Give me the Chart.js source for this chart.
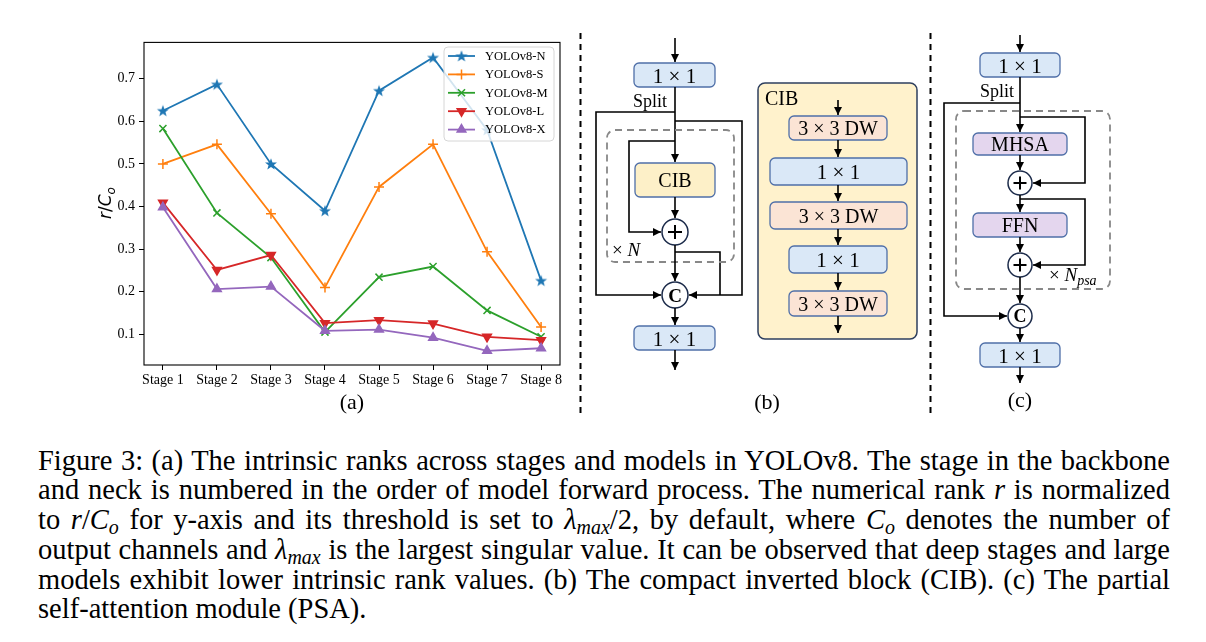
<!DOCTYPE html>
<html>
<head>
<meta charset="utf-8">
<script src="https://cdn.jsdelivr.net/npm/chart.js@4.4.1/dist/chart.umd.min.js"></script>
<style>
  body { margin: 0; background: #fff; width: 1206px; height: 642px; overflow: hidden; position: relative; font-family: 'Liberation Serif', serif; }
  #chartBox { position: absolute; left: 60px; top: 30px; width: 510px; height: 370px; }
  #figs { position: absolute; left: 0; top: 0; pointer-events: none; }
  #figs text { font-family: 'Liberation Serif', serif; fill: #000; }
  .ln { stroke: #000; stroke-width: 1.6; fill: none; }
  .ar { marker-end: url(#ah); }
  .blue { fill: #dae8f7; stroke: #4f6fa8; stroke-width: 1.3; }
  .cib { fill: #fdf0c8; stroke: #4f6fa8; stroke-width: 1.3; }
  .peach { fill: #fbe4d5; stroke: #4f6fa8; stroke-width: 1.3; }
  .purple { fill: #e4d6ee; stroke: #4f6fa8; stroke-width: 1.3; }
  .circ { fill: #fff; stroke: #1c2b4a; stroke-width: 1.5; }
  .plus { stroke: #000; stroke-width: 2; }
  .dash { fill: none; stroke: #888; stroke-width: 1.8; stroke-dasharray: 7 5; }
  .sep { stroke: #000; stroke-width: 2; stroke-dasharray: 6 5; }
  #caption { position: absolute; left: 38px; top: 445.5px; width: 1132px; font-family: 'Liberation Serif', serif; font-size: 28.5px; line-height: 29.8px; color: #000; }
  #caption div { white-space: nowrap; }
  #caption sub { font-size: 0.7em; vertical-align: -0.25em; line-height: 0; }
</style>
</head>
<body>
<div id="chartBox"><canvas id="grafico"></canvas></div>

<svg id="figs" width="1206" height="430" xmlns="http://www.w3.org/2000/svg">
  <defs>
    <marker id="ah" viewBox="0 0 10 10" refX="10" refY="5" markerWidth="8" markerHeight="8" markerUnits="userSpaceOnUse" orient="auto">
      <path d="M0,0 L10,5 L0,10 z" fill="#000"/>
    </marker>
  </defs>

  <!-- separators -->
  <line class="sep" x1="580.5" y1="33" x2="580.5" y2="418"/>
  <line class="sep" x1="930.5" y1="33" x2="930.5" y2="418"/>

  <text x="352" y="409" font-size="22" text-anchor="middle">(a)</text>

  <!-- (b) -->
  <line class="ln ar" x1="675" y1="38" x2="675" y2="62"/>
  <rect class="blue" x="634" y="63" width="81" height="24" rx="5"/>
  <text x="674.5" y="82.5" font-size="21" text-anchor="middle">1 × 1</text>
  <text x="667" y="107" font-size="18" text-anchor="end">Split</text>
  <line class="ln ar" x1="675" y1="87" x2="675" y2="162"/>
  <polyline class="ln ar" points="675,112 596,112 596,295 661,295"/>
  <polyline class="ln ar" points="675,121 742,121 742,295 689,295"/>
  <polyline class="ln" points="675,252 720,252 720,295"/>
  <rect class="dash" x="607" y="130" width="127" height="132" rx="8"/>
  <polyline class="ln ar" points="675,141 629,141 629,232 661,232"/>
  <rect class="cib" x="635" y="163" width="80" height="34" rx="5"/>
  <text x="675" y="187" font-size="20" text-anchor="middle">CIB</text>
  <line class="ln ar" x1="675" y1="197" x2="675" y2="218"/>
  <circle class="circ" cx="675" cy="232" r="13"/>
  <line class="plus" x1="668" y1="232" x2="682" y2="232"/>
  <line class="plus" x1="675" y1="225" x2="675" y2="239"/>
  <line class="ln ar" x1="675" y1="245" x2="675" y2="281"/>
  <text x="612" y="256" font-size="19">× <tspan font-style="italic">N</tspan></text>
  <circle class="circ" cx="675" cy="295" r="13"/>
  <text x="675" y="301.5" font-size="19" font-weight="bold" text-anchor="middle">C</text>
  <line class="ln ar" x1="675" y1="308" x2="675" y2="325"/>
  <rect class="blue" x="634" y="326" width="81" height="24" rx="5"/>
  <text x="674.5" y="345.5" font-size="21" text-anchor="middle">1 × 1</text>
  <line class="ln ar" x1="675" y1="350" x2="675" y2="370"/>
  <text x="767" y="409" font-size="22" text-anchor="middle">(b)</text>

  <!-- CIB detail -->
  <rect x="758" y="83" width="159" height="256" rx="7" fill="#fff2cc" stroke="#2e3f5e" stroke-width="1.5"/>
  <text x="765" y="105" font-size="20">CIB</text>
  <line class="ln ar" x1="838" y1="100" x2="838" y2="115"/>
  <rect class="peach" x="789" y="116" width="98" height="24" rx="5"/>
  <text x="838" y="135" font-size="20" text-anchor="middle">3 × 3 DW</text>
  <line class="ln ar" x1="838" y1="140" x2="838" y2="157"/>
  <rect class="blue" x="770" y="158" width="137" height="27" rx="5"/>
  <text x="838.5" y="179" font-size="21" text-anchor="middle">1 × 1</text>
  <line class="ln ar" x1="838" y1="185" x2="838" y2="201"/>
  <rect class="peach" x="770" y="202" width="137" height="27" rx="5"/>
  <text x="838.5" y="223" font-size="20" text-anchor="middle">3 × 3 DW</text>
  <line class="ln ar" x1="838" y1="229" x2="838" y2="245"/>
  <rect class="blue" x="789" y="246" width="98" height="27" rx="5"/>
  <text x="838" y="267" font-size="21" text-anchor="middle">1 × 1</text>
  <line class="ln ar" x1="838" y1="273" x2="838" y2="290"/>
  <rect class="peach" x="789" y="291" width="98" height="25" rx="5"/>
  <text x="838" y="311" font-size="20" text-anchor="middle">3 × 3 DW</text>
  <line class="ln ar" x1="838" y1="316" x2="838" y2="333"/>

  <!-- (c) -->
  <line class="ln ar" x1="1020" y1="35" x2="1020" y2="52"/>
  <rect class="blue" x="980" y="53" width="80" height="24" rx="5"/>
  <text x="1020" y="72.5" font-size="21" text-anchor="middle">1 × 1</text>
  <text x="1014" y="97" font-size="18" text-anchor="end">Split</text>
  <line class="ln ar" x1="1020" y1="77" x2="1020" y2="132"/>
  <polyline class="ln ar" points="1020,103 944,103 944,316 1007,316"/>
  <rect class="dash" x="956" y="111" width="154" height="178" rx="8"/>
  <polyline class="ln ar" points="1020,117 1085,117 1085,183 1033,183"/>
  <rect class="purple" x="973" y="133" width="94" height="22" rx="5"/>
  <text x="1020" y="151" font-size="20" text-anchor="middle">MHSA</text>
  <line class="ln ar" x1="1020" y1="155" x2="1020" y2="170"/>
  <circle class="circ" cx="1020" cy="183" r="12"/>
  <line class="plus" x1="1013.5" y1="183" x2="1026.5" y2="183"/>
  <line class="plus" x1="1020" y1="176.5" x2="1020" y2="189.5"/>
  <line class="ln ar" x1="1020" y1="195" x2="1020" y2="212"/>
  <polyline class="ln ar" points="1020,199 1085,199 1085,265 1033,265"/>
  <rect class="purple" x="973" y="213" width="94" height="24" rx="5"/>
  <text x="1020" y="232" font-size="20" text-anchor="middle">FFN</text>
  <line class="ln ar" x1="1020" y1="237" x2="1020" y2="252"/>
  <circle class="circ" cx="1020" cy="265" r="12"/>
  <line class="plus" x1="1013.5" y1="265" x2="1026.5" y2="265"/>
  <line class="plus" x1="1020" y1="258.5" x2="1020" y2="271.5"/>
  <text x="1049" y="281" font-size="19">× <tspan font-style="italic">N</tspan><tspan font-style="italic" font-size="14" dy="4">psa</tspan></text>
  <line class="ln ar" x1="1020" y1="277" x2="1020" y2="303"/>
  <circle class="circ" cx="1020" cy="316" r="12"/>
  <text x="1020" y="322" font-size="18" font-weight="bold" text-anchor="middle">C</text>
  <line class="ln ar" x1="1020" y1="328" x2="1020" y2="342"/>
  <rect class="blue" x="980" y="343" width="80" height="24" rx="5"/>
  <text x="1020" y="362.5" font-size="21" text-anchor="middle">1 × 1</text>
  <line class="ln ar" x1="1020" y1="367" x2="1020" y2="383"/>
  <text x="1020" y="407" font-size="22" text-anchor="middle">(c)</text>
</svg>

<div id="caption">
  <div class="cl">Figure 3: (a) The intrinsic ranks across stages and models in YOLOv8. The stage in the backbone</div>
  <div class="cl">and neck is numbered in the order of model forward process. The numerical rank <i>r</i> is normalized</div>
  <div class="cl">to <i>r</i>/<i>C<sub>o</sub></i> for y-axis and its threshold is set to <i>λ<sub>max</sub></i>/2, by default, where <i>C<sub>o</sub></i> denotes the number of</div>
  <div class="cl">output channels and <i>λ<sub>max</sub></i> is the largest singular value. It can be observed that deep stages and large</div>
  <div class="cl">models exhibit lower intrinsic rank values. (b) The compact inverted block (CIB). (c) The partial</div>
  <div>self-attention module (PSA).</div>
</div>

<script>
const stages = ['Stage 1', 'Stage 2', 'Stage 3', 'Stage 4', 'Stage 5', 'Stage 6', 'Stage 7', 'Stage 8'];
const yoloN = [0.625, 0.687, 0.500, 0.390, 0.672, 0.750, 0.580, 0.226];
const yoloS = [0.500, 0.546, 0.383, 0.210, 0.446, 0.546, 0.294, 0.117];
const yoloM = [0.583, 0.385, 0.280, 0.105, 0.234, 0.259, 0.156, 0.094];
const yoloL = [0.409, 0.251, 0.286, 0.126, 0.133, 0.125, 0.094, 0.086];
const yoloX = [0.398, 0.206, 0.212, 0.108, 0.111, 0.092, 0.061, 0.067];
const yTicks = [0.1, 0.2, 0.3, 0.4, 0.5, 0.6, 0.7];

function makeStar(color) {
    const c = document.createElement('canvas');
    c.width = 14; c.height = 14;
    const g = c.getContext('2d');
    g.fillStyle = color;
    g.beginPath();
    for (let i = 0; i < 10; i++) {
        const r = i % 2 ? 2.6 : 6.3;
        const a = -Math.PI / 2 + i * Math.PI / 5;
        g.lineTo(7 + r * Math.cos(a), 7.5 + r * Math.sin(a));
    }
    g.closePath();
    g.fill();
    return c;
}

const series = [
    { label: 'YOLOv8-N', values: yoloN, color: '#1f77b4', style: makeStar('#1f77b4'), rot: 0, radius: 5 },
    { label: 'YOLOv8-S', values: yoloS, color: '#ff7f0e', style: 'cross', rot: 0, radius: 5 },
    { label: 'YOLOv8-M', values: yoloM, color: '#2ca02c', style: 'crossRot', rot: 0, radius: 5 },
    { label: 'YOLOv8-L', values: yoloL, color: '#d62728', style: 'triangle', rot: 180, radius: 5 },
    { label: 'YOLOv8-X', values: yoloX, color: '#9467bd', style: 'triangle', rot: 0, radius: 5 }
];

const datasets = series.map((s, i) => ({
    label: s.label,
    data: s.values.map((v, k) => ({ x: k, y: v })),
    borderColor: s.color,
    backgroundColor: s.color,
    borderWidth: 1.8,
    pointStyle: s.style,
    pointRotation: s.rot,
    pointRadius: s.radius,
    pointBorderWidth: 1.5,
    pointBackgroundColor: s.color,
    pointBorderColor: s.color,
    tension: 0,
    order: series.length - i
}));

// frame round the plot, like matplotlib spines
const framePlugin = {
    id: 'frame',
    afterDraw(chart) {
        const { ctx, chartArea: a } = chart;
        ctx.save();
        ctx.strokeStyle = '#000';
        ctx.lineWidth = 1.1;
        ctx.strokeRect(a.left, a.top, a.right - a.left, a.bottom - a.top);
        ctx.restore();
    }
};

// legend drawn inside the plot, upper right
const legendPlugin = {
    id: 'innerLegend',
    afterDraw(chart) {
        const ctx = chart.ctx;
        const bx = 384, by = 17, bw = 110, bh = 94;
        ctx.save();
        ctx.beginPath();
        ctx.roundRect(bx, by, bw, bh, 4);
        ctx.fillStyle = 'rgba(255,255,255,0.8)';
        ctx.fill();
        ctx.strokeStyle = '#d6d6d6';
        ctx.lineWidth = 1;
        ctx.stroke();
        chart.data.datasets.forEach((ds, i) => {
            const y = 26 + i * 18.4;
            ctx.strokeStyle = ds.borderColor;
            ctx.lineWidth = 1.8;
            ctx.beginPath();
            ctx.moveTo(388, y);
            ctx.lineTo(415, y);
            ctx.stroke();
            ctx.fillStyle = ds.borderColor;
            ctx.lineWidth = 1.5;
            Chart.helpers.drawPoint(ctx, {
                pointStyle: ds.pointStyle, rotation: ds.pointRotation,
                radius: ds.pointRadius, borderWidth: 1.5
            }, 401.5, y);
            ctx.fillStyle = '#000';
            ctx.font = '12.5px "Liberation Serif"';
            ctx.textBaseline = 'middle';
            ctx.fillText(ds.label, 425, y + 0.5);
        });
        ctx.restore();
    }
};

// y label r/C_o with subscript
const yLabelPlugin = {
    id: 'yLabel',
    afterDraw(chart) {
        const ctx = chart.ctx;
        ctx.save();
        ctx.translate(45, 173);
        ctx.rotate(-Math.PI / 2);
        ctx.fillStyle = '#000';
        ctx.textBaseline = 'alphabetic';
        const big = 'italic 17px "DejaVu Sans"';
        const norm = '17px "DejaVu Sans"';
        const small = 'italic 12px "DejaVu Sans"';
        ctx.font = big; const wr = ctx.measureText('r').width;
        ctx.font = norm; const ws = ctx.measureText('/').width;
        ctx.font = big; const wc = ctx.measureText('C').width;
        ctx.font = small; const wo = ctx.measureText('o').width;
        let x = -(wr + ws + wc + wo) / 2;
        const base = 6;
        ctx.font = big; ctx.fillText('r', x, base); x += wr;
        ctx.font = norm; ctx.fillText('/', x, base); x += ws;
        ctx.font = big; ctx.fillText('C', x, base); x += wc;
        ctx.font = small; ctx.fillText('o', x, base + 3.5);
        ctx.restore();
    }
};

const tickFont = { family: 'Liberation Serif', size: 14 };

new Chart(document.getElementById('grafico').getContext('2d'), {
    type: 'line',
    data: { datasets: datasets },
    options: {
        responsive: true,
        maintainAspectRatio: false,
        animation: false,
        layout: { padding: { left: 0, top: 10, right: 10, bottom: 5 } },
        plugins: { legend: { display: false }, tooltip: { enabled: false } },
        scales: {
            x: {
                type: 'linear', min: -0.35, max: 7.35,
                afterBuildTicks: s => { s.ticks = stages.map((_, i) => ({ value: i })); },
                afterFit: s => { s.height = 30; },
                ticks: { callback: v => stages[v], font: tickFont, color: '#000', padding: 2, maxRotation: 0, autoSkip: false },
                grid: { drawOnChartArea: false, tickLength: 5, color: '#000' },
                border: { display: false }
            },
            y: {
                type: 'linear', min: 0.0277, max: 0.7855,
                afterBuildTicks: s => { s.ticks = yTicks.map(v => ({ value: v })); },
                afterFit: s => { s.width = 84; },
                ticks: { callback: v => v.toFixed(1), font: tickFont, color: '#000', padding: 4 },
                grid: { drawOnChartArea: false, tickLength: 5, color: '#000' },
                border: { display: false }
            }
        }
    },
    plugins: [framePlugin, legendPlugin, yLabelPlugin]
});

// spread the caption lines to the full width, as LaTeX justifies them
function justifyCaption() {
    document.querySelectorAll('#caption .cl').forEach(el => {
        el.style.wordSpacing = '0px';
        const range = document.createRange();
        range.selectNodeContents(el);
        const w = range.getBoundingClientRect().width;
        const gaps = (el.textContent.trim().match(/ +/g) || []).length;
        if (gaps) el.style.wordSpacing = ((1132 - w) / gaps) + 'px';
    });
}
justifyCaption();
document.fonts.ready.then(justifyCaption);
</script>
</body>
</html>
